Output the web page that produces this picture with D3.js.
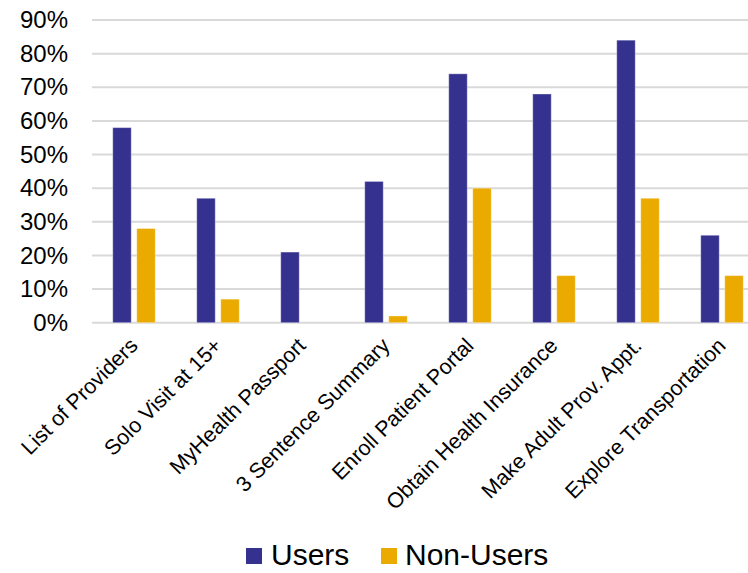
<!DOCTYPE html>
<html>
<head>
<meta charset="utf-8">
<script src="https://cdn.jsdelivr.net/npm/d3@7"></script>
<style>
  body { margin: 0; background: #fff; }
  svg { display: block; font-family: "Liberation Sans", Arial, sans-serif; }
</style>
</head>
<body>
<svg class="chart-svg"></svg>
<script>
const categories = ["List of Providers", "Solo Visit at 15+", "MyHealth Passport", "3 Sentence Summary",
    "Enroll Patient Portal", "Obtain Health Insurance", "Make Adult Prov. Appt.", "Explore Transportation"];
const seriesNames = ["Users", "Non-Users"];
const usersValues = [0.58, 0.37, 0.21, 0.42, 0.74, 0.68, 0.84, 0.26];
const nonUsersValues = [0.28, 0.07, 0, 0.02, 0.40, 0.14, 0.37, 0.14];
const yTicks = [0, 0.1, 0.2, 0.3, 0.4, 0.5, 0.6, 0.7, 0.8, 0.9];

const colors = { "Users": "#35318f", "Non-Users": "#ebaa00" };

const width = 748, height = 573;
const plot = { left: 92, right: 764, top: 20, bottom: 322.7 };

const svg = d3.select(".chart-svg").attr("width", width).attr("height", height);

const x = d3.scaleBand().domain(categories).range([plot.left, plot.right]).padding(0);
const xSub = d3.scaleBand().domain(seriesNames).range([-21.25, 21.25]).paddingInner(0.23);
const y = d3.scaleLinear().domain([0, 0.9]).range([plot.bottom, plot.top]);

// gridlines
svg.append("g")
    .selectAll("line")
    .data(yTicks)
    .enter()
    .append("line")
    .attr("x1", plot.left)
    .attr("x2", width)
    .attr("y1", d => y(d))
    .attr("y2", d => y(d))
    .attr("stroke", "#d9d9d9")
    .attr("stroke-width", 2);

// y axis labels
const yAxis = d3.axisLeft(y).tickValues(yTicks).tickFormat(d3.format(".0%")).tickSize(0).tickPadding(0);
svg.append("g")
    .attr("transform", "translate(68,0)")
    .call(yAxis)
    .call(g => g.select(".domain").remove())
    .selectAll("text")
    .attr("font-size", 24)
    .attr("font-family", "Liberation Sans, Arial, sans-serif")
    .attr("fill", "#000");

// bars
const rows = categories.map((c, i) => ({
    category: c,
    values: [
        { key: "Users", value: usersValues[i] },
        { key: "Non-Users", value: nonUsersValues[i] },
    ],
}));

const group = svg.append("g")
    .selectAll("g")
    .data(rows)
    .enter()
    .append("g")
    .attr("transform", d => `translate(${x(d.category) + x.bandwidth() / 2}, 0)`);

group.selectAll("rect")
    .data(d => d.values.filter(v => v.value > 0))
    .enter()
    .append("rect")
    .attr("x", d => xSub(d.key))
    .attr("width", xSub.bandwidth())
    .attr("y", d => y(d.value))
    .attr("height", d => y(0) - y(d.value))
    .attr("fill", d => colors[d.key])
    .attr("stroke", "rgba(255,255,255,0.35)")
    .attr("stroke-width", 1);

// x labels
svg.append("g")
    .selectAll("text")
    .data(categories)
    .enter()
    .append("text")
    .attr("transform", d => `translate(${x(d) + x.bandwidth() / 2 + 5}, 347) rotate(-45)`)
    .attr("text-anchor", "end")
    .attr("font-size", 21.5)
    .attr("fill", "#000")
    .text(d => d);

// legend
const legendPos = [{ sx: 246, tx: 271 }, { sx: 381, tx: 405 }];
const legend = svg.append("g")
    .selectAll("g")
    .data(seriesNames)
    .enter()
    .append("g");

legend.append("rect")
    .attr("x", (d, i) => legendPos[i].sx)
    .attr("y", 548)
    .attr("width", 16)
    .attr("height", 16)
    .attr("fill", d => colors[d]);

legend.append("text")
    .attr("x", (d, i) => legendPos[i].tx)
    .attr("y", 565)
    .attr("font-size", 30)
    .attr("fill", "#000")
    .text(d => d);
</script>
</body>
</html>
